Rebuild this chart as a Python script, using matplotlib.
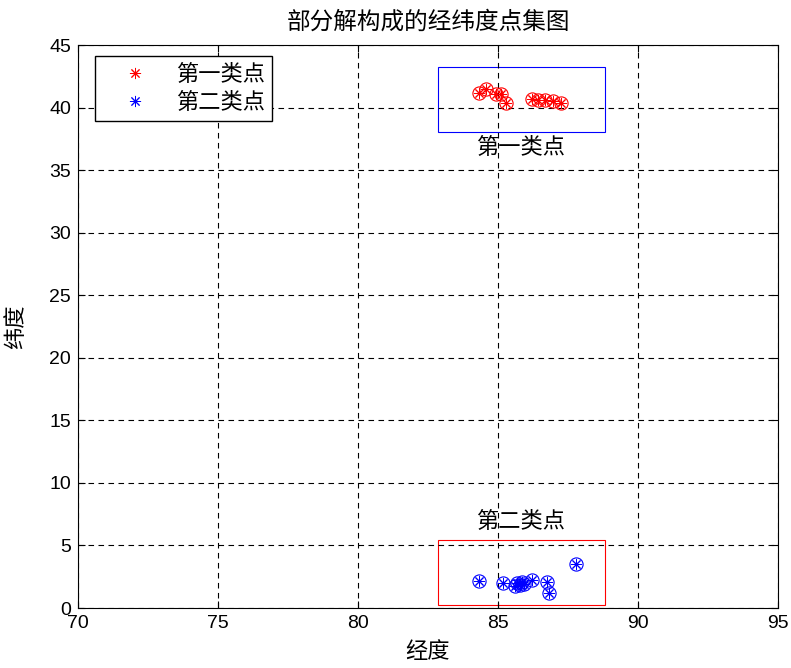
import numpy as np
import matplotlib
matplotlib.use("Agg")
import matplotlib.pyplot as plt
from matplotlib.patches import Rectangle

plt.rcParams['font.family'] = ['Noto Sans CJK SC', 'DejaVu Sans']

# first class points (red)
lon1 = [84.32, 84.57, 84.93, 85.11, 85.29, 86.23, 86.43, 86.68, 86.98, 87.25]
lat1 = [41.19, 41.46, 41.06, 41.06, 40.34, 40.71, 40.61, 40.61, 40.53, 40.34]
# second class points (blue)
lon2 = [84.31, 85.17, 85.69, 85.79, 85.85, 86.20, 86.74, 86.83, 87.78, 85.62, 85.92]
lat2 = [2.18, 1.97, 1.97, 1.84, 2.10, 2.24, 2.10, 1.17, 3.52, 1.75, 1.90]

box1 = (82.86, 38.05, 5.96, 5.2)   # x, y, w, h
box2 = (82.86, 0.24, 5.96, 5.2)

fs = 16
fig = plt.figure(figsize=(7.91, 6.68), dpi=100)
ax = fig.add_axes([0.0986, 0.0898, 0.8850, 0.8428])

ast = (8, 2, 0)
ax.plot(lon1, lat1, ls='none', marker=ast, color='red', ms=8, mew=0.7, label='第一类点')
ax.plot(lon2, lat2, ls='none', marker=ast, color='blue', ms=8, mew=0.7, label='第二类点')
ax.plot(lon1, lat1, ls='none', marker='o', mfc='none', mec='red', ms=9.5, mew=0.8)
ax.plot(lon2, lat2, ls='none', marker='o', mfc='none', mec='blue', ms=9.5, mew=0.8)

ax.add_patch(Rectangle(box1[:2], box1[2], box1[3], fill=False, ec='blue', lw=0.8))
ax.add_patch(Rectangle(box2[:2], box2[2], box2[3], fill=False, ec='red', lw=0.8))
ax.text(85.79, 36.8, '第一类点', ha='center', va='center', fontsize=fs)
ax.text(85.79, 6.9, '第二类点', ha='center', va='center', fontsize=fs)

ax.set_xlim(70, 95)
ax.set_ylim(0, 45)
ax.set_xticks(np.arange(70, 96, 5))
ax.set_yticks(np.arange(0, 46, 5))
for lab in ax.get_xticklabels() + ax.get_yticklabels():
    lab.set_family('Liberation Sans')
    lab.set_fontsize(14)
ax.tick_params(direction='in', top=True, right=True, length=5, pad=5)
ax.grid(True, color='black', ls=(0, (5, 4)), lw=0.8)

ax.set_title('部分解构成的经纬度点集图', fontsize=17, pad=12)
ax.set_xlabel('经度', fontsize=fs, labelpad=6)
ax.set_ylabel('纬度', fontsize=fs, labelpad=16)

leg = ax.legend(loc='upper left', bbox_to_anchor=(0.0243, 0.9805), borderaxespad=0,
                prop={'size': fs}, fancybox=False, framealpha=1,
                edgecolor='black', borderpad=0.3, handletextpad=0.35,
                labelspacing=0.25, handlelength=3.0)
leg.get_frame().set_linewidth(1.0)

fig.savefig('out.png', dpi=100)
